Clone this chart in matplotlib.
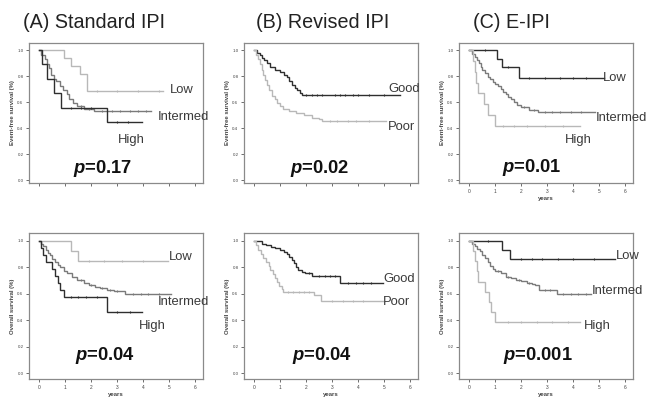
import matplotlib
matplotlib.use("Agg")
import matplotlib.pyplot as plt

plt.rcParams['font.family'] = ['Liberation Sans', 'DejaVu Sans']

DARK, MID, LIGHT = '#2e2e2e', '#7a7a7a', '#b8b8b8'

# ---- Event-free survival, standard IPI ----
efs_std_low_t = [0.95, 1.2, 1.55, 1.85]
efs_std_low_s = [0.9375, 0.875, 0.8125, 0.6875]
efs_std_low_end = 4.75
efs_std_low_c = [2.2, 3.0, 3.8, 4.6]
efs_std_int_t = [0.08, 0.2, 0.3, 0.38, 0.45, 0.55, 0.65, 0.78, 0.9, 1.05, 1.15, 1.3, 1.45, 1.7, 2.1]
efs_std_int_s = [0.96, 0.93, 0.89, 0.86, 0.81, 0.78, 0.76, 0.72, 0.69, 0.66, 0.62, 0.59, 0.57, 0.55, 0.53]
efs_std_int_end = 4.3
efs_std_int_c = [1.6, 1.9, 2.4, 2.8, 3.1, 3.5, 3.8, 4.1]
efs_std_high_t = [0.1, 0.3, 0.55, 0.85, 2.6]
efs_std_high_s = [0.889, 0.778, 0.667, 0.556, 0.444]
efs_std_high_end = 3.95
efs_std_high_c = [1.2, 1.6, 2.0, 3.0, 3.4]

# ---- Event-free survival, revised IPI ----
efs_rev_good_t = [0.1, 0.2, 0.3, 0.38, 0.5, 0.6, 0.8, 1.0, 1.15, 1.25, 1.35, 1.45, 1.55, 1.65, 1.75, 1.85]
efs_rev_good_s = [0.98, 0.96, 0.94, 0.92, 0.9, 0.87, 0.85, 0.83, 0.81, 0.79, 0.76, 0.73, 0.71, 0.69, 0.67, 0.655]
efs_rev_good_end = 5.6
efs_rev_good_c = [2.0, 2.2, 2.4, 2.6, 3.1, 3.3, 3.5, 3.8, 4.0, 4.4, 5.0]
efs_rev_poor_t = [0.05, 0.12, 0.2, 0.28, 0.35, 0.42, 0.5, 0.58, 0.67, 0.78, 0.88, 1.0, 1.12, 1.35, 1.6, 1.9, 2.2, 2.5, 2.6]
efs_rev_poor_s = [0.96, 0.93, 0.89, 0.85, 0.81, 0.77, 0.73, 0.69, 0.65, 0.62, 0.59, 0.57, 0.55, 0.53, 0.515, 0.5, 0.48, 0.466, 0.455]
efs_rev_poor_end = 5.05
efs_rev_poor_c = [2.9, 3.2, 3.6, 3.9, 4.4]

# ---- Event-free survival, E-IPI ----
efs_e_low_t = [1.05, 1.25, 1.9]
efs_e_low_s = [0.933, 0.867, 0.787]
efs_e_low_end = 5.2
efs_e_low_c = [0.6, 1.5, 2.3, 2.9, 3.5, 4.0, 4.5]
efs_e_int_t = [0.1, 0.2, 0.3, 0.37, 0.45, 0.5, 0.6, 0.7, 0.8, 0.9, 1.0, 1.1, 1.2, 1.3, 1.4, 1.5, 1.6, 1.7, 1.85, 2.0, 2.3, 2.65]
efs_e_int_s = [0.97, 0.95, 0.92, 0.9, 0.87, 0.845, 0.82, 0.795, 0.775, 0.755, 0.74, 0.72, 0.7, 0.68, 0.66, 0.64, 0.62, 0.6, 0.58, 0.56, 0.54, 0.52]
efs_e_int_end = 4.85
efs_e_int_c = [2.1, 2.5, 2.9, 3.2, 3.5, 3.9, 4.3]
efs_e_high_t = [0.15, 0.2, 0.25, 0.35, 0.55, 0.7, 1.0]
efs_e_high_s = [0.917, 0.833, 0.75, 0.667, 0.583, 0.5, 0.417]
efs_e_high_end = 4.25
efs_e_high_c = [1.3, 1.7, 2.2, 2.9, 3.6]

# ---- Overall survival, standard IPI ----
os_std_low_t = [1.2, 1.5]
os_std_low_s = [0.923, 0.846]
os_std_low_end = 4.95
os_std_low_c = [1.9, 2.5, 3.2, 4.0]
os_std_int_t = [0.05, 0.15, 0.25, 0.35, 0.42, 0.5, 0.6, 0.7, 0.8, 0.95, 1.06, 1.25, 1.45, 1.7, 1.9, 2.15, 2.35, 2.6, 2.86, 3.3]
os_std_int_s = [0.98, 0.96, 0.93, 0.91, 0.89, 0.86, 0.84, 0.82, 0.8, 0.775, 0.755, 0.73, 0.705, 0.685, 0.67, 0.655, 0.64, 0.63, 0.62, 0.597]
os_std_int_end = 5.05
os_std_int_c = [1.6, 2.0, 2.4, 2.7, 3.0, 3.6, 3.9, 4.2, 4.6]
os_std_high_t = [0.05, 0.15, 0.25, 0.5, 0.6, 0.7, 0.8, 0.95, 2.6]
os_std_high_s = [0.947, 0.895, 0.842, 0.789, 0.737, 0.684, 0.632, 0.579, 0.463]
os_std_high_end = 3.95
os_std_high_c = [1.2, 1.5, 1.8, 2.2, 3.0, 3.5]

# ---- Overall survival, revised IPI ----
os_rev_good_t = [0.3, 0.45, 0.65, 0.8, 1.0, 1.15, 1.25, 1.35, 1.45, 1.52, 1.6, 1.67, 1.85, 1.95, 2.2, 3.28]
os_rev_good_s = [0.98, 0.97, 0.955, 0.945, 0.93, 0.915, 0.9, 0.88, 0.855, 0.83, 0.805, 0.78, 0.765, 0.755, 0.735, 0.68]
os_rev_good_end = 4.95
os_rev_good_c = [2.1, 2.5, 2.7, 2.9, 3.1, 3.6, 3.9, 4.2, 4.5]
os_rev_poor_t = [0.05, 0.15, 0.25, 0.35, 0.45, 0.55, 0.62, 0.7, 0.8, 0.88, 0.95, 1.05, 1.12, 2.3, 2.55]
os_rev_poor_s = [0.97, 0.93, 0.9, 0.87, 0.84, 0.81, 0.78, 0.75, 0.72, 0.69, 0.66, 0.635, 0.616, 0.59, 0.548]
os_rev_poor_end = 4.95
os_rev_poor_c = [1.3, 1.5, 1.7, 1.9, 2.1, 3.0, 3.4, 3.8, 4.2]

# ---- Overall survival, E-IPI ----
os_e_low_t = [1.26, 1.58]
os_e_low_s = [0.933, 0.862]
os_e_low_end = 5.6
os_e_low_c = [0.7, 2.0, 2.4, 2.8, 3.4, 4.0, 4.8]
os_e_int_t = [0.1, 0.2, 0.3, 0.4, 0.5, 0.6, 0.7, 0.8, 0.9, 1.0, 1.2, 1.4, 1.6, 1.8, 2.0, 2.2, 2.4, 2.54, 2.67, 3.37]
os_e_int_s = [0.98, 0.96, 0.94, 0.92, 0.895, 0.87, 0.84, 0.81, 0.79, 0.77, 0.755, 0.73, 0.72, 0.705, 0.695, 0.685, 0.675, 0.666, 0.628, 0.598]
os_e_int_end = 4.7
os_e_int_c = [1.1, 1.5, 1.9, 2.3, 2.9, 3.1, 3.6, 3.9, 4.2, 4.5]
os_e_high_t = [0.12, 0.2, 0.28, 0.35, 0.6, 0.75, 0.85, 1.0]
os_e_high_s = [0.923, 0.846, 0.769, 0.692, 0.615, 0.538, 0.462, 0.385]
os_e_high_end = 4.25
os_e_high_c = [1.5, 2.0, 2.6, 3.2, 3.8]

titles = ['(A) Standard IPI', '(B) Revised IPI', '(C) E-IPI']
p_values_efs = ['0.17', '0.02', '0.01']
p_values_os = ['0.04', '0.04', '0.001']
year_ticks = [0, 1, 2, 3, 4, 5, 6]
surv_ticks = [0.0, 0.2, 0.4, 0.6, 0.8, 1.0]

W, H = 650, 397
fig = plt.figure(figsize=(W / 100, H / 100), dpi=100)


def px_axes(left, right, top, bottom):
    return fig.add_axes([left / W, (H - bottom) / H, (right - left) / W, (bottom - top) / H])


def km(ax, t, s, end, cens, color):
    xs = [0.0] + list(t) + [end]
    ys = [1.0] + list(s) + [s[-1]]
    ax.step(xs, ys, where='post', color=color, lw=1.0, solid_joinstyle='miter')
    # censored observations as small vertical ticks
    cy = []
    for c in cens:
        level = 1.0
        for ti, si in zip(t, s):
            if ti <= c:
                level = si
        cy.append(level)
    ax.plot(cens, cy, ls='none', marker='|', ms=1.8, mew=0.8, color=color)


def style(ax, ylim, ylabel, xlabels):
    ax.set_xlim(-0.4, 6.3)
    ax.set_ylim(*ylim)
    ax.set_xticks(year_ticks)
    ax.set_yticks(surv_ticks)
    ax.set_yticklabels([f'{v:.1f}' for v in surv_ticks], fontsize=3.2, color='#444')
    if xlabels:
        ax.set_xticklabels([str(v) for v in year_ticks], fontsize=3.5, color='#444')
        ax.set_xlabel('years', fontsize=4.3, fontweight='bold', color='#444', labelpad=1.5)
    else:
        ax.set_xticklabels([])
    ax.tick_params(length=2.5, width=0.6, pad=1.5, color='#555')
    ax.set_ylabel(ylabel, fontsize=4.3, fontweight='bold', color='#444', labelpad=2)
    for sp in ax.spines.values():
        sp.set_color('#8a8a8a')
        sp.set_linewidth(0.9)


def lab(ax, x, y, text):
    ax.text(x, y, text, fontsize=9.4, color='#3a3a3a', va='center', ha='left', clip_on=False)


def pval(ax, x, y, val):
    ax.text(x, y, r'$\boldsymbol{p}$' + '=' + val, fontsize=13.2, fontweight='bold',
            ha='center', va='center', color='#111')


plt.rcParams['mathtext.fontset'] = 'custom'
plt.rcParams['mathtext.bfit'] = 'Liberation Sans:italic:bold'

lefts = [29, 244, 459]
rights = [203, 418, 633]
title_x = [23, 256, 473]

top_axes = [px_axes(l, r, 43, 183) for l, r in zip(lefts, rights)]
bot_axes = [px_axes(l, r, 233, 379) for l, r in zip(lefts, rights)]

for i, ax in enumerate(top_axes):
    style(ax, (-0.023, 1.054), 'Event-free survival (%)', xlabels=(i == 2))
    fig.text(title_x[i] / W, 1 - 22 / H, titles[i], fontsize=14.2, ha='left', va='center', color='#222')
for ax in bot_axes:
    style(ax, (-0.045, 1.06), 'Overall survival (%)', xlabels=True)

# (A) event-free
a = top_axes[0]
km(a, efs_std_low_t, efs_std_low_s, efs_std_low_end, efs_std_low_c, LIGHT)
km(a, efs_std_int_t, efs_std_int_s, efs_std_int_end, efs_std_int_c, MID)
km(a, efs_std_high_t, efs_std_high_s, efs_std_high_end, efs_std_high_c, DARK)
lab(a, 5.04, 0.69, 'Low')
lab(a, 4.54, 0.485, 'Intermed')
lab(a, 3.04, 0.31, 'High')
pval(a, 2.42, 0.09, p_values_efs[0])

# (B) event-free
b = top_axes[1]
km(b, efs_rev_good_t, efs_rev_good_s, efs_rev_good_end, efs_rev_good_c, DARK)
km(b, efs_rev_poor_t, efs_rev_poor_s, efs_rev_poor_end, efs_rev_poor_c, LIGHT)
lab(b, 5.15, 0.70, 'Good')
lab(b, 5.15, 0.405, 'Poor')
pval(b, 2.52, 0.09, p_values_efs[1])

# (C) event-free
c = top_axes[2]
km(c, efs_e_low_t, efs_e_low_s, efs_e_low_end, efs_e_low_c, DARK)
km(c, efs_e_int_t, efs_e_int_s, efs_e_int_end, efs_e_int_c, MID)
km(c, efs_e_high_t, efs_e_high_s, efs_e_high_end, efs_e_high_c, LIGHT)
lab(c, 5.15, 0.785, 'Low')
lab(c, 4.85, 0.48, 'Intermed')
lab(c, 3.66, 0.31, 'High')
pval(c, 2.42, 0.10, p_values_efs[2])

# (A) overall
a = bot_axes[0]
km(a, os_std_low_t, os_std_low_s, os_std_low_end, os_std_low_c, LIGHT)
km(a, os_std_int_t, os_std_int_s, os_std_int_end, os_std_int_c, MID)
km(a, os_std_high_t, os_std_high_s, os_std_high_end, os_std_high_c, DARK)
lab(a, 5.0, 0.877, 'Low')
lab(a, 4.54, 0.535, 'Intermed')
lab(a, 3.85, 0.356, 'High')
pval(a, 2.54, 0.13, p_values_os[0])

# (B) overall
b = bot_axes[1]
km(b, os_rev_good_t, os_rev_good_s, os_rev_good_end, os_rev_good_c, DARK)
km(b, os_rev_poor_t, os_rev_poor_s, os_rev_poor_end, os_rev_poor_c, LIGHT)
lab(b, 4.96, 0.71, 'Good')
lab(b, 4.96, 0.535, 'Poor')
pval(b, 2.62, 0.136, p_values_os[1])

# (C) overall
c = bot_axes[2]
km(c, os_e_low_t, os_e_low_s, os_e_low_end, os_e_low_c, DARK)
km(c, os_e_int_t, os_e_int_s, os_e_int_end, os_e_int_c, MID)
km(c, os_e_high_t, os_e_high_s, os_e_high_end, os_e_high_c, LIGHT)
lab(c, 5.65, 0.886, 'Low')
lab(c, 4.73, 0.623, 'Intermed')
lab(c, 4.39, 0.358, 'High')
pval(c, 2.63, 0.13, p_values_os[2])

fig.savefig('out.png', dpi=100)
